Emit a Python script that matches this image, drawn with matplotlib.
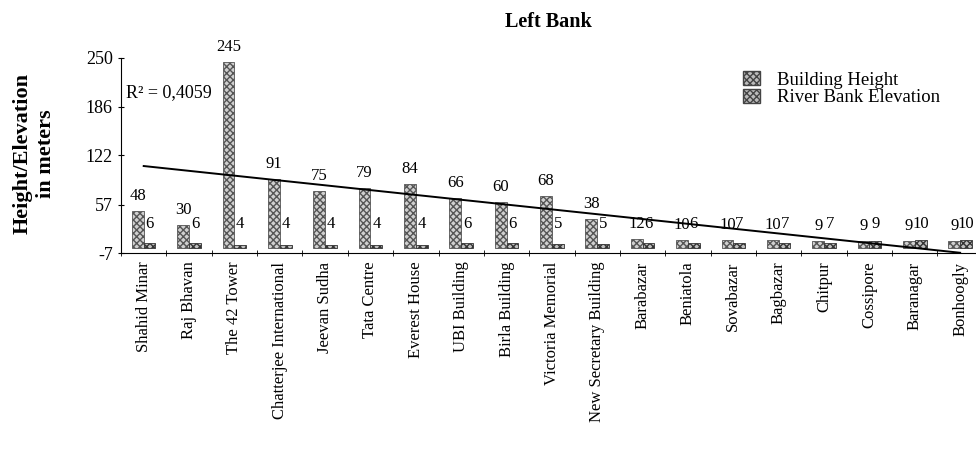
import numpy as np
import matplotlib.pyplot as plt
from matplotlib.patches import Patch

places = ['Shahid Minar', 'Raj Bhavan', 'The 42 Tower', 'Chatterjee International',
          'Jeevan Sudha', 'Tata Centre', 'Everest House', 'UBI Building',
          'Birla Building', 'Victoria Memorial', 'New Secretary Building',
          'Barabazar', 'Beniatola', 'Sovabazar', 'Bagbazar', 'Chitpur',
          'Cossipore', 'Baranagar', 'Bonhoogly']
building = [48, 30, 245, 91, 75, 79, 84, 66, 60, 68, 38, 12, 10, 10, 10, 9, 9, 9, 9]
elevation = [6, 6, 4, 4, 4, 4, 4, 6, 6, 5, 5, 6, 6, 7, 7, 7, 9, 10, 10]
yticks = [-7, 57, 122, 186, 250]

plt.rcParams['font.family'] = ['Liberation Serif', 'DejaVu Serif']

fig = plt.figure(figsize=(9.76, 4.75), dpi=100)
ax = fig.add_axes([0.124, 0.467, 0.876, 0.411])

x = np.arange(1, len(places) + 1)
w = 0.26
ax.bar(x - w / 2, building, w, color='#d0d0d0', edgecolor='#555555',
       hatch='xxxxx', linewidth=0.6)
ax.bar(x + w / 2, elevation, w, color='#c0c0c0', edgecolor='#333333',
       hatch='xxxxx', linewidth=0.6)

for xi, b, e in zip(x, building, elevation):
    ax.annotate(str(b), (xi - w / 2, b), xytext=(0, 5), textcoords='offset points',
                ha='center', va='bottom', fontsize=12)
    ax.annotate(str(e), (xi + w / 2, max(e, 12)), xytext=(0, 5), textcoords='offset points',
                ha='center', va='bottom', fontsize=12)

# linear trend on building height
k, c = np.polyfit(x, building, 1)
ax.plot(x, k * x + c, color='black', linewidth=1.4)
ax.text(0.6, 205, 'R² = 0,4059', fontsize=13, va='center')

ax.set_xlim(0.58, 19.35)
ax.set_ylim(-7, 250)
ax.set_yticks(yticks)
ax.set_yticklabels([str(t) for t in yticks], fontsize=13)
ax.set_xticks(x)
ax.set_xticklabels(places, rotation=90, fontsize=12)
ax.set_xticks(np.arange(0.5, 19.5, 1), minor=True)
ax.tick_params(axis='x', which='major', length=0, pad=6)
ax.tick_params(axis='x', which='minor', length=5, direction='inout')
ax.tick_params(axis='y', length=5, direction='inout')
ax.spines['top'].set_visible(False)
ax.spines['right'].set_visible(False)

ax.set_title('Left Bank', fontsize=14.5, fontweight='bold', pad=22)
ax.set_ylabel('Height/Elevation\nin meters', fontsize=16, fontweight='bold')
ax.yaxis.set_label_coords(-0.076, 0.51)

handles = [Patch(facecolor='#bbbbbb', edgecolor='#444444', hatch='xxxxx'),
           Patch(facecolor='#bbbbbb', edgecolor='#444444', hatch='xxxxx')]
ax.legend(handles, ['Building Height', 'River Bank Elevation'], loc='upper left',
          bbox_to_anchor=(0.708, 1.02), frameon=False, fontsize=13.5,
          handlelength=0.9, handleheight=0.8, handletextpad=0.9, labelspacing=0.0)

fig.savefig('out.png', dpi=100)
